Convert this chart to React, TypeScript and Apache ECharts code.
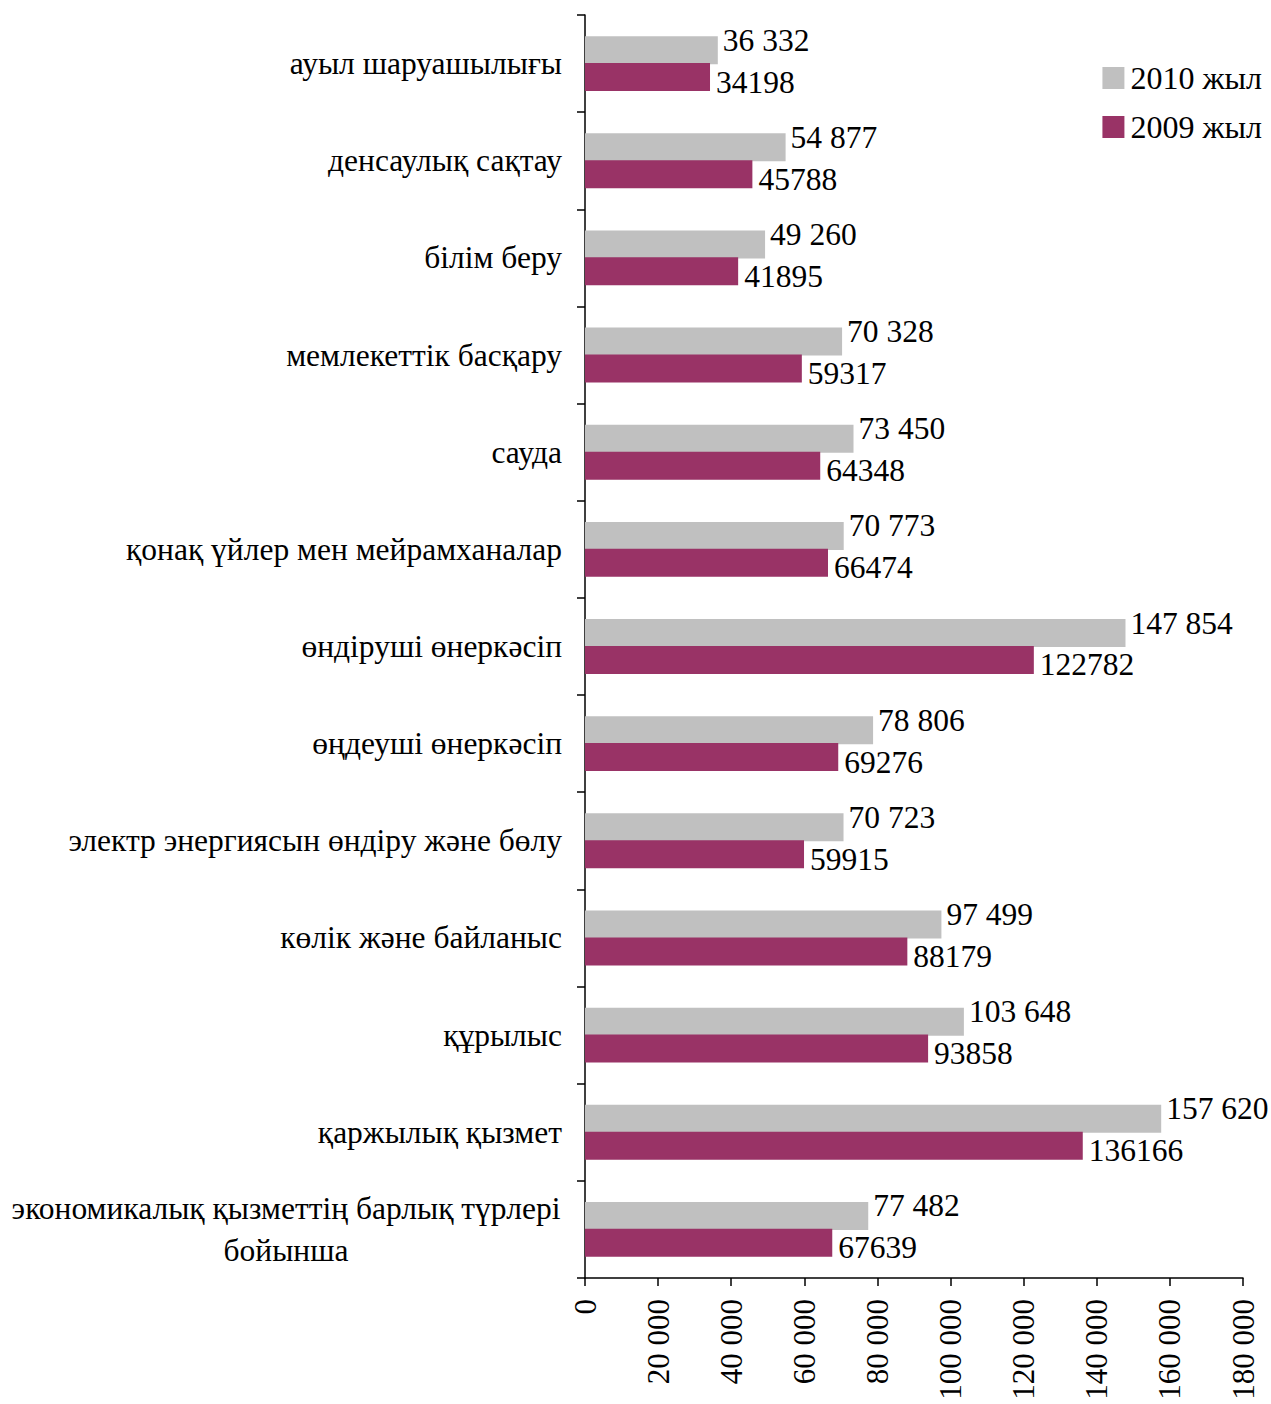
import React, { useEffect, useRef } from "react";
import * as echarts from "echarts";

const categories = [
  "ауыл шаруашылығы",
  "денсаулық сақтау",
  "білім беру",
  "мемлекеттік басқару",
  "сауда",
  "қонақ үйлер мен мейрамханалар",
  "өндіруші өнеркәсіп",
  "өңдеуші өнеркәсіп",
  "электр энергиясын өндіру және бөлу",
  "көлік және байланыс",
  "құрылыс",
  "қаржылық қызмет",
  "экономикалық қызметтің барлық түрлері\nбойынша",
];
const values2010 = [36332, 54877, 49260, 70328, 73450, 70773, 147854, 78806, 70723, 97499, 103648, 157620, 77482];
const values2009 = [34198, 45788, 41895, 59317, 64348, 66474, 122782, 69276, 59915, 88179, 93858, 136166, 67639];
const seriesNames = ["2010 жыл", "2009 жыл"];
const xMax = 180000;
const xInterval = 20000;

const FONT = "'Liberation Serif', 'Times New Roman', serif";

const fmtSpace = (v: number) => String(v).replace(/\B(?=(\d{3})+(?!\d))/g, " ");

export default function App() {
  const ref = useRef<HTMLDivElement>(null);
  useEffect(() => {
    document.body.style.margin = "0";
    document.body.style.overflow = "hidden";
    document.documentElement.style.overflow = "hidden";
    if (!ref.current) return;
    const chart = echarts.init(ref.current, undefined, { renderer: "svg" });
    const lastIdx = categories.length - 1;
    chart.setOption({
      animation: false,
      backgroundColor: "#ffffff",
      textStyle: { fontFamily: FONT, color: "#000" },
      legend: {
        orient: "vertical",
        right: 4,
        top: 57,
        icon: "rect",
        itemWidth: 22,
        itemHeight: 22,
        itemGap: 17,
        data: seriesNames,
        textStyle: { fontFamily: FONT, fontSize: 32, color: "#000", padding: [0, 0, 0, 1] },
      },
      grid: { left: 585, right: 28, top: 15, bottom: 126, containLabel: false },
      xAxis: {
        type: "value",
        min: 0,
        max: xMax,
        interval: xInterval,
        axisLine: { show: true, lineStyle: { color: "#000", width: 1.5 } },
        axisTick: { show: true, length: 8, lineStyle: { color: "#000", width: 1.5 } },
        splitLine: { show: false },
        axisLabel: {
          rotate: 90,
          margin: 21,
          fontFamily: FONT,
          fontSize: 31,
          color: "#000",
          formatter: (v: number) => fmtSpace(v),
        },
      },
      yAxis: {
        type: "category",
        inverse: true,
        data: categories.map((c, i) =>
          i === lastIdx
            ? { value: c, textStyle: { align: "center", padding: [0, 552, 0, 0], lineHeight: 42 } }
            : c
        ),
        axisLine: { show: true, lineStyle: { color: "#000", width: 1.5 } },
        axisTick: { show: true, length: 8, lineStyle: { color: "#000", width: 1.5 } },
        axisLabel: {
          fontFamily: FONT,
          fontSize: 31.5,
          color: "#000",
          margin: 23,
          align: "right",
        },
      },
      series: [
        {
          name: seriesNames[0],
          type: "bar",
          data: values2010,
          barWidth: 28,
          barGap: "-4%",
          itemStyle: { color: "#c0c0c0" },
          label: {
            show: true,
            position: "right",
            distance: 5,
            offset: [0, -10],
            fontFamily: FONT,
            fontSize: 31.5,
            color: "#000",
            formatter: (p: any) => fmtSpace(p.value),
          },
        },
        {
          name: seriesNames[1],
          type: "bar",
          data: values2009,
          barWidth: 28,
          itemStyle: { color: "#993366" },
          label: {
            show: true,
            position: "right",
            distance: 6,
            offset: [0, 5],
            fontFamily: FONT,
            fontSize: 31.5,
            color: "#000",
            formatter: (p: any) => String(p.value),
          },
        },
      ],
    });
    return () => chart.dispose();
  }, []);
  return <div ref={ref} style={{ width: 1271, height: 1404 }} />;
}
